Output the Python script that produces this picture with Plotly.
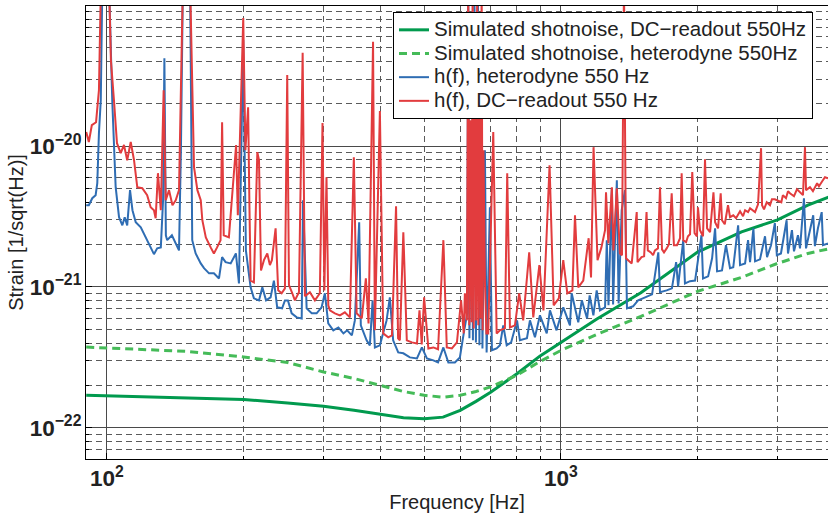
import math
import numpy as np
import plotly.graph_objects as go

# ---------------- data ----------------
freq_shot = [90, 150, 200, 250, 300, 350, 400, 450, 500, 550, 600, 650, 700,
             800, 900, 1000, 1200, 1500, 2000, 2500, 3000, 3500, 3900]
shot_dc = [1.70e-22, 1.64e-22, 1.59e-22, 1.50e-22, 1.42e-22, 1.33e-22, 1.24e-22,
           1.18e-22, 1.16e-22, 1.19e-22, 1.33e-22, 1.54e-22, 1.79e-22, 2.42e-22,
           3.24e-22, 4.06e-22, 5.92e-22, 9.10e-22, 1.77e-21, 2.46e-21, 3.00e-21,
           3.81e-21, 4.36e-21]
shot_het = [3.74e-22, 3.49e-22, 3.18e-22, 2.91e-22, 2.49e-22, 2.24e-22, 2.00e-22,
            1.81e-22, 1.70e-22, 1.65e-22, 1.70e-22, 1.81e-22, 1.95e-22, 2.36e-22,
            2.96e-22, 3.54e-22, 4.61e-22, 6.18e-22, 9.31e-22, 1.17e-21, 1.47e-21,
            1.73e-21, 1.87e-21]

freq_het = [90.0, 91.2, 92.8, 94.4, 95.2, 96.0, 96.9, 97.7, 101.0, 102.7, 104.5, 106.3,
            108.1, 109.4, 110.8, 112.4, 113.8, 115.7, 118.7, 121.7, 123.7, 126.9, 129.0,
            131.4, 132.9, 133.8, 134.8, 135.7, 139.0, 141.7, 144.1, 145.5, 147.0, 152.4,
            154.1, 156.8, 160.9, 163.6, 167.8, 172.0, 176.5, 179.3, 182.5, 187.3, 192.3,
            195.3, 199.6, 202.3, 207.2, 210.7, 216.2, 219.9, 224.1, 229.3, 233.2, 237.1,
            243.1, 246.6, 250.4, 255.2, 261.8, 268.5, 270.3, 275.3, 282.5, 289.6, 297.0,
            302.0, 307.2, 315.2, 323.4, 331.8, 338.1, 346.3, 351.6, 359.4, 362.4, 373.2,
            379.4, 384.7, 389.2, 399.2, 405.9, 413.0, 419.9, 427.0, 438.1, 449.6, 464.8,
            481.8, 494.0, 506.7, 523.6, 536.2, 550.9, 565.0, 584.0, 599.0, 610.8, 621.6,
            624.9, 628.7, 635.1, 640.0, 644.8, 649.7, 656.3, 661.4, 666.5, 671.6, 680.1,
            686.0, 697.5, 704.7, 721.8, 733.9, 746.4, 759.6, 776.8, 800.4, 812.3, 841.7,
            854.6, 876.6, 899.1, 930.6, 945.9, 978.1, 1012, 1047, 1056, 1092, 1112, 1142,
            1157, 1179, 1199, 1219, 1251, 1262, 1273, 1295, 1303, 1328, 1340, 1361, 1384,
            1398, 1442, 1479, 1515, 1557, 1588, 1639, 1653, 1710, 1756, 1794, 1812, 1860,
            1876, 1925, 1975, 2040, 2056, 2110, 2153, 2186, 2208, 2264, 2310, 2358, 2397,
            2457, 2481, 2545, 2584, 2610, 2655, 2677, 2745, 2816, 2845, 2903, 2960, 2990,
            3053, 3142, 3164, 3228, 3262, 3328, 3363, 3431, 3467, 3537, 3596, 3627, 3683,
            3754, 3779, 3876]
h_het = [3.81e-21, 3.81e-21, 4.27e-21, 4.49e-21, 5.46e-21, 1.24e-20, 2.12e-20, 1.5e-19,
         1.5e-19, 2.12e-20, 5.11e-21, 3.13e-21, 2.74e-21, 3.13e-21, 2.74e-21, 4.87e-21,
         3.51e-21, 2.88e-21, 2.65e-21, 2.25e-21, 2.04e-21, 1.71e-21, 1.88e-21, 1.91e-21,
         4.13e-21, 4.22e-20, 2.33e-21, 2.15e-21, 2.33e-21, 2.04e-21, 1.82e-21, 9.37e-21,
         1.5e-19, 1.5e-19, 2.15e-21, 1.73e-21, 1.47e-21, 1.36e-21, 1.25e-21, 1.25e-21,
         1.15e-21, 1.63e-21, 1.50e-21, 1.47e-21, 1.73e-21, 1.06e-21, 5.67e-20, 1.82e-21,
         9.94e-22, 8.30e-22, 8.03e-22, 9.94e-22, 8.03e-22, 8.44e-22, 1.11e-21, 7.17e-22,
         7.05e-22, 8.03e-22, 8.03e-22, 6.50e-22, 6.08e-22, 5.98e-22, 4.13e-21, 7.05e-22,
         6.50e-22, 6.50e-22, 7.17e-22, 9.02e-22, 5.51e-22, 4.92e-22, 5.16e-22, 4.68e-22,
         4.92e-22, 4.53e-22, 5.79e-22, 2.88e-21, 5.34e-22, 4.18e-22, 3.85e-22, 8.03e-22,
         3.72e-22, 3.85e-22, 4.68e-22, 5.79e-22, 8.44e-22, 4.18e-22, 3.43e-22, 3.38e-22,
         3.16e-22, 3.11e-22, 3.72e-22, 3.11e-22, 3.01e-22, 2.91e-22, 3.72e-22, 2.91e-22,
         2.91e-22, 3.16e-22, 4.68e-22, 6.50e-22, 1.5e-19, 4.32e-22, 9.37e-21, 4.18e-22,
         1.5e-19, 4.04e-22, 1.5e-19, 3.85e-22, 1.53e-20, 3.66e-22, 9.37e-21, 3.43e-22,
         3.68e-21, 3.55e-22, 3.66e-22, 3.85e-22, 5.34e-22, 3.85e-22, 4.04e-22, 5.79e-22,
         4.18e-22, 4.32e-22, 5.79e-22, 4.39e-22, 6.29e-22, 4.68e-22, 6.82e-22, 4.92e-22,
         7.17e-22, 5.34e-22, 9.02e-22, 5.61e-22, 8.03e-22, 5.98e-22, 8.72e-22, 6.29e-22,
         9.46e-22, 6.82e-22, 7.17e-22, 2.15e-21, 7.41e-22, 5.03e-21, 7.52e-22, 5.73e-21,
         7.64e-22, 3.51e-21, 4.87e-21, 7.05e-22, 7.29e-22, 8.03e-22, 8.30e-22, 8.58e-22,
         8.87e-22, 1.76e-21, 9.17e-22, 9.46e-22, 9.78e-22, 1.50e-21, 1.01e-21, 2.15e-21,
         1.06e-21, 1.10e-21, 1.11e-21, 2.33e-21, 1.15e-21, 1.19e-21, 1.60e-21, 2.61e-21,
         1.29e-21, 1.31e-21, 1.98e-21, 1.36e-21, 1.38e-21, 2.74e-21, 1.43e-21, 1.47e-21,
         2.15e-21, 1.50e-21, 2.61e-21, 1.52e-21, 1.57e-21, 2.29e-21, 1.63e-21, 1.98e-21,
         2.84e-21, 1.68e-21, 1.73e-21, 2.98e-21, 1.73e-21, 2.53e-21, 1.79e-21, 2.33e-21,
         1.88e-21, 4.27e-21, 1.88e-21, 2.53e-21, 3.23e-21, 1.95e-21, 2.61e-21, 3.40e-21,
         1.98e-21, 2.04e-21]

freq_dc = [90.0, 91.2, 92.6, 94.6, 96.0, 97.0, 101.0, 102.0, 103.6, 105.2, 107.2, 109.0,
           110.8, 112.8, 114.7, 116.6, 119.6, 122.6, 124.8, 126.9, 128.0, 129.5, 131.4,
           133.3, 134.7, 137.0, 139.4, 141.7, 144.1, 145.5, 147.0, 152.4, 153.9, 155.5,
           158.2, 160.9, 162.2, 165.1, 169.2, 172.0, 174.8, 177.9, 179.3, 180.8, 185.6,
           188.5, 192.5, 194.2, 197.2, 199.6, 201.8, 204.6, 206.0, 207.2, 210.7, 214.4,
           216.2, 218.4, 221.7, 225.5, 228.5, 230.8, 235.2, 238.3, 242.5, 246.6, 249.5,
           251.7, 255.5, 259.4, 264.8, 269.8, 272.9, 279.9, 287.1, 294.4, 298.4, 301.2,
           304.5, 307.3, 309.8, 317.7, 325.9, 334.2, 342.8, 349.8, 354.8, 364.2, 371.8,
           376.9, 385.6, 389.2, 399.2, 405.9, 416.5, 424.4, 433.3, 437.8, 441.8, 449.6,
           457.6, 469.6, 481.8, 488.0, 493.6, 499.6, 510.5, 523.6, 536.2, 550.9, 560.5,
           575.2, 590.1, 602.6, 610.8, 614.4, 620.7, 624.9, 628.0, 631.9, 635.5, 639.0,
           642.6, 646.4, 650.4, 654.0, 657.7, 661.4, 665.1, 668.9, 672.3, 675.0, 680.1,
           685.3, 691.6, 709.5, 721.8, 733.9, 752.7, 761.6, 772.1, 791.9, 809.2, 825.8,
           851.4, 869.2, 896.4, 915.2, 944.0, 963.8, 989.4, 1012, 1033, 1060, 1074, 1092,
           1120, 1151, 1165, 1180, 1204, 1228, 1251, 1257, 1272, 1295, 1305, 1328, 1349,
           1363, 1377, 1391, 1432, 1469, 1475, 1505, 1525, 1544, 1554, 1578, 1596, 1611,
           1636, 1653, 1670, 1687, 1710, 1730, 1754, 1774, 1802, 1830, 1845, 1860, 1887,
           1905, 1925, 1947, 1970, 1994, 2004, 2025, 2056, 2077, 2099, 2131, 2168, 2186,
           2219, 2249, 2264, 2296, 2334, 2358, 2397, 2431, 2481, 2519, 2545, 2584, 2610,
           2677, 2718, 2760, 2774, 2802, 2841, 2888, 2917, 2960, 3059, 3083, 3132, 3164,
           3196, 3262, 3312, 3363, 3414, 3449, 3467, 3537, 3591, 3668, 3702, 3764, 3817,
           3876]
h_dc = [1.26e-20, 1.07e-20, 1.41e-20, 1.48e-20, 2.50e-20, 1.5e-19, 1.5e-19, 4.09e-20,
        2.12e-20, 1.05e-20, 8.92e-21, 1.02e-20, 7.95e-21, 1.07e-20, 7.95e-21, 5.11e-21,
        5.03e-21, 4.49e-21, 3.68e-21, 3.51e-21, 3.08e-21, 6.43e-21, 3.51e-21, 2.50e-20,
        4.13e-21, 4.87e-21, 3.81e-21, 4.13e-21, 4.87e-21, 4.09e-20, 1.5e-19, 1.5e-19,
        4.09e-20, 7.09e-21, 4.87e-21, 4.13e-21, 2.98e-21, 2.25e-21, 1.91e-21, 1.73e-21,
        1.91e-21, 2.15e-21, 1.48e-20, 2.33e-21, 2.25e-21, 4.34e-21, 1.02e-20, 3.23e-21,
        2.12e-20, 8.12e-20, 9.37e-21, 1.89e-20, 3.68e-21, 1.11e-21, 1.08e-21, 9.07e-21,
        7.95e-21, 1.31e-21, 1.55e-21, 1.73e-21, 1.43e-21, 1.55e-21, 2.61e-21, 9.46e-22,
        9.02e-22, 9.78e-22, 3.20e-20, 1.03e-21, 9.17e-22, 8.03e-22, 9.17e-22, 4.61e-20,
        8.58e-22, 9.17e-22, 8.03e-22, 9.02e-22, 1.46e-20, 9.46e-22, 6.02e-21, 7.41e-22,
        6.82e-22, 6.50e-22, 6.29e-22, 6.60e-22, 6.08e-22, 8.35e-21, 6.50e-22, 5.98e-22,
        1.15e-21, 5.51e-22, 5.51e-20, 4.92e-22, 1.78e-20, 4.68e-22, 4.39e-22, 4.53e-22,
        3.74e-21, 4.32e-22, 4.18e-22, 2.45e-21, 4.18e-22, 4.04e-22, 3.97e-22, 6.82e-22,
        3.91e-22, 8.44e-22, 3.66e-22, 3.72e-22, 3.61e-22, 2.15e-21, 3.72e-22, 3.66e-22,
        4.04e-22, 8.03e-22, 4.68e-22, 9.02e-22, 5.79e-22, 1.5e-19, 5.34e-22, 1.53e-20,
        5.61e-22, 1.5e-19, 5.08e-22, 4.09e-20, 5.79e-22, 1.5e-19, 5.34e-22, 2.50e-20,
        5.98e-22, 1.5e-19, 4.92e-22, 9.37e-21, 1.11e-21, 4.68e-22, 4.68e-22, 1.26e-20,
        4.68e-22, 4.92e-22, 5.08e-22, 6.43e-21, 5.16e-22, 5.34e-22, 9.02e-22, 5.79e-22,
        1.76e-21, 6.08e-22, 1.43e-21, 6.82e-22, 7.33e-21, 7.41e-22, 8.30e-22, 1.55e-21,
        9.02e-22, 9.46e-22, 3.23e-21, 9.94e-22, 1.11e-21, 2.22e-21, 1.17e-21, 9.84e-21,
        1.55e-21, 1.91e-21, 2.53e-21, 4.71e-21, 2.04e-21, 5.11e-21, 1.82e-21, 5.03e-21,
        1.73e-21, 1.68e-21, 1.5e-19, 1.60e-21, 1.47e-21, 3.40e-21, 1.50e-21, 1.63e-21,
        1.65e-21, 3.40e-21, 1.82e-21, 1.76e-21, 1.68e-21, 1.82e-21, 1.88e-21, 5.11e-21,
        1.85e-21, 1.76e-21, 1.88e-21, 2.01e-21, 4.63e-21, 1.98e-21, 1.98e-21, 2.22e-21,
        6.43e-21, 2.15e-21, 2.08e-21, 2.29e-21, 2.37e-21, 6.54e-21, 2.41e-21, 2.29e-21,
        3.68e-21, 2.53e-21, 2.29e-21, 8.08e-21, 2.61e-21, 2.45e-21, 4.71e-21, 2.88e-21,
        2.61e-21, 4.63e-21, 2.98e-21, 2.79e-21, 3.81e-21, 3.13e-21, 3.23e-21, 3.08e-21,
        3.45e-21, 3.18e-21, 3.51e-21, 3.40e-21, 3.62e-21, 3.40e-21, 3.87e-21, 9.68e-21,
        3.81e-21, 3.56e-21, 4.00e-21, 3.81e-21, 4.20e-21, 4.20e-21, 4.00e-21, 4.49e-21,
        4.27e-21, 4.79e-21, 4.63e-21, 4.41e-21, 4.95e-21, 4.71e-21, 4.49e-21, 9.84e-21,
        4.87e-21, 5.11e-21, 4.79e-21, 5.46e-21, 5.19e-21, 5.64e-21, 6.02e-21, 5.92e-21]

x_range_hz = [89.9, 3876]
y_range = [6.0e-23, 9.9e-20]

legend_names = ["Simulated shotnoise, DC\u2212readout 550Hz",
                "Simulated shotnoise, heterodyne 550Hz",
                "h(f), heterodyne 550 Hz",
                "h(f), DC\u2212readout 550 Hz"]


def sorted_xy(f, s):
    f = np.asarray(f, float)
    s = np.asarray(s, float)
    o = np.argsort(f, kind="stable")
    return f[o], s[o]


def legend_label(txt):
    # larger glyphs than the legend row pitch, as in the reference
    return '<span style="font-size:20.5px">' + txt + '</span>'


fig = go.Figure()
fig.add_trace(go.Scatter(x=freq_shot, y=shot_dc, mode="lines",
                         name=legend_label(legend_names[0]),
                         line=dict(color="#019a4e", width=3)))
fig.add_trace(go.Scatter(x=freq_shot, y=shot_het, mode="lines",
                         name=legend_label(legend_names[1]),
                         line=dict(color="#45bb58", width=3, dash="8px,5px")))
fx, sy = sorted_xy(freq_het, h_het)
fig.add_trace(go.Scatter(x=fx, y=sy, mode="lines", name=legend_label(legend_names[2]),
                         line=dict(color="#2f6db3", width=2)))
fx, sy = sorted_xy(freq_dc, h_dc)
fig.add_trace(go.Scatter(x=fx, y=sy, mode="lines", name=legend_label(legend_names[3]),
                         line=dict(color="#e23c3e", width=2)))

L, R, T, B = 86, 0, 6, 59
W, H = 828, 518
pw, ph = W - L - R, H - T - B

axis_common = dict(
    type="log", showline=True, linecolor="black", linewidth=1,
    ticks="inside", ticklen=6, tickcolor="black", dtick=1,
    exponentformat="power", showgrid=True, gridcolor="#4a4a4a", gridwidth=1.2,
    minor=dict(dtick="D1", ticks="inside", ticklen=3, tickcolor="black",
               showgrid=True, gridcolor="#5a5a5a", griddash="6px,4px", gridwidth=1),
    tickfont=dict(family="Liberation Sans, Arial, sans-serif", size=18,
                  weight="bold", color="#222"),
    automargin=False, zeroline=False,
)

fig.update_layout(
    width=W, height=H,
    margin=dict(l=L, r=R, t=T, b=B, pad=0),
    paper_bgcolor="white", plot_bgcolor="white",
    font=dict(family="Liberation Sans, Arial, sans-serif", size=20, color="#222"),
    xaxis=dict(axis_common,
               range=[math.log10(x_range_hz[0]), math.log10(x_range_hz[1])],
               mirror=True,
               title=dict(text="Frequency [Hz]", standoff=4,
                          font=dict(size=20, color="#222"))),
    yaxis=dict(axis_common,
               range=[math.log10(y_range[0]), math.log10(y_range[1])],
               mirror=False,
               title=dict(text="Strain [1/sqrt(Hz)]", standoff=0,
                          font=dict(size=20, color="#222"))),
    legend=dict(x=(393 - L) / pw, y=(H - B - 12) / ph, xanchor="left", yanchor="top",
                bgcolor="white", bordercolor="black", borderwidth=1,
                font=dict(size=15.9, color="#222"), tracegroupgap=0),
    showlegend=True,
)

fig.write_html("out.html",
               config={"displayModeBar": False},
               post_script="document.body.style.margin='0px';"
                           "document.body.style.overflow='hidden';")
